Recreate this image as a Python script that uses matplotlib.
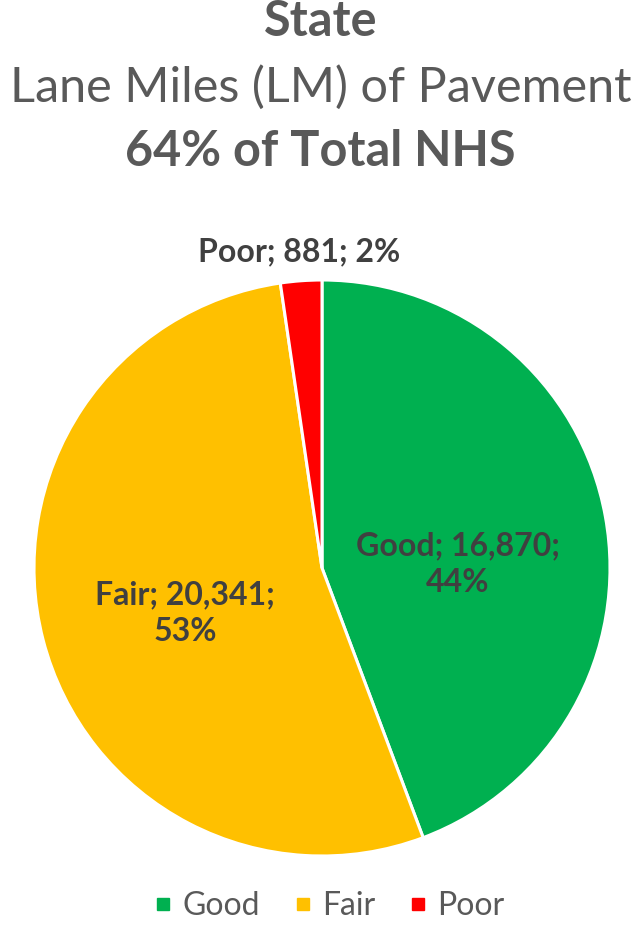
import numpy as np
import matplotlib.pyplot as plt
from matplotlib.transforms import offset_copy

plt.rcParams['font.family'] = ['Lato', 'DejaVu Sans']

categories = ['Good', 'Fair', 'Poor']
lane_miles = [16870, 20341, 881]
colors = ['#00B050', '#FFC000', '#FF0000']
label_dist = [0.48, 0.49, 1.10]
label_drop = [15, 7, 0]  # points, nudges labels downward
label_lines = [True, True, False]

total = sum(lane_miles)
pcts = [round(v / total * 100) for v in lane_miles]

W, H = 641, 925
fig = plt.figure(figsize=(W / 100, H / 100), dpi=100)

# pie placed by pixel centre / radius
cx, cy, r = 322, 568, 288
ax = fig.add_axes([(cx - r) / W, (H - cy - r) / H, 2 * r / W, 2 * r / H])

wedges, _ = ax.pie(lane_miles, colors=colors, startangle=90, counterclock=False,
                   wedgeprops=dict(edgecolor='white', linewidth=2.2))
ax.set_xlim(-1, 1)
ax.set_ylim(-1, 1)
ax.set_aspect('equal')
ax.axis('off')

for w, name, v, p, d, dy, two in zip(wedges, categories, lane_miles, pcts,
                                     label_dist, label_drop, label_lines):
    ang = np.deg2rad((w.theta1 + w.theta2) / 2)
    sep = '\n' if two else ' '
    txt = f'{name}; {v:,};{sep}{p}%'
    tr = offset_copy(ax.transData, fig=fig, x=0, y=-dy, units='points')
    ax.text(d * np.cos(ang), d * np.sin(ang), txt, ha='center', va='center',
            fontsize=23, fontweight='bold', color='#404040', linespacing=1.3,
            transform=tr, clip_on=False)

fig.text(0.5, 1 - 22 / H, 'State', ha='center', va='center',
         fontsize=35, fontweight='bold', color='#595959')
fig.text(0.5, 1 - 87 / H, 'Lane Miles (LM) of Pavement', ha='center', va='center',
         fontsize=35, color='#595959')
fig.text(0.5, 1 - 152 / H, '64% of Total NHS', ha='center', va='center',
         fontsize=35, fontweight='bold', color='#595959')

handles = [plt.Line2D([], [], marker='s', linestyle='', markersize=9,
                      markerfacecolor=c, markeredgecolor=c) for c in colors]
fig.legend(handles, categories, loc='center', bbox_to_anchor=(330 / W, 1 - 906 / H),
           ncol=3, frameon=False, fontsize=23, handlelength=0.5, handletextpad=0.35,
           columnspacing=1.1, labelcolor='#595959')

fig.savefig('out.png', dpi=100)
